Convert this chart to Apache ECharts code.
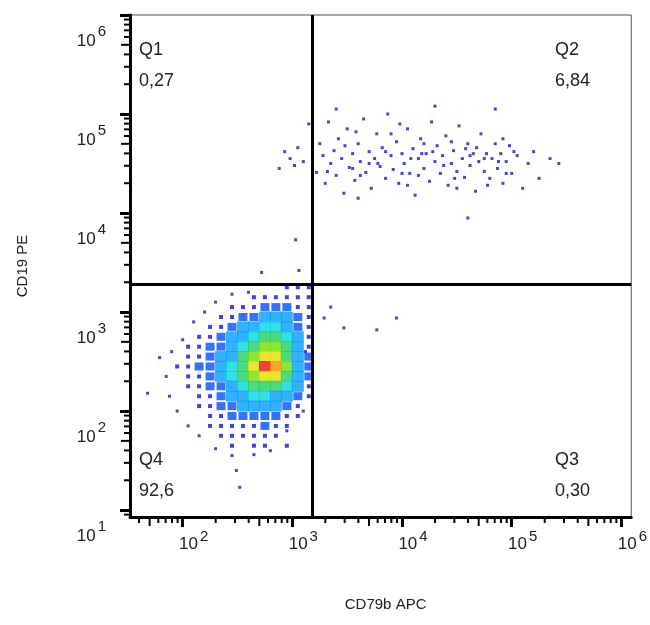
<!DOCTYPE html>
<html>
<head>
<meta charset="utf-8">
<script src="https://cdn.jsdelivr.net/npm/echarts@6/dist/echarts.min.js"></script>
<style>html,body{margin:0;padding:0;background:#fff}#chart{width:650px;height:625px}</style>
</head>
<body>
<div id="chart"></div>
<script>
// axis ranges, log10 units
var xRange = [1.52, 6.09];
var yRange = [0.93, 6.0];
var xDecades = [1e2, 1e3, 1e4, 1e5, 1e6];
var yDecades = [1e1, 1e2, 1e3, 1e4, 1e5, 1e6];
var gateX = 3.18, gateY = 3.28;

// density grid of the main population (log10 units), rows top to bottom
var gridX = [1.95, 2.05, 2.15, 2.25, 2.35, 2.45, 2.55, 2.65, 2.75, 2.85, 2.95, 3.05, 3.15];
var gridY = [3.25, 3.15, 3.05, 2.95, 2.85, 2.75, 2.65, 2.55, 2.45, 2.35, 2.25, 2.15, 2.05, 1.95, 1.85, 1.75, 1.65];
var density = [
  [0,0,0,0,0,0,0,0,0,0,1,1,1],
  [0,0,0,0,0,0,0,1,1,1,1,1,1],
  [0,0,0,0,0,1,1,1,2,2,2,1,1],
  [0,0,0,0,1,1,2,2,3,3,3,2,1],
  [0,0,0,1,1,2,3,3,4,4,3,2,1],
  [0,0,1,1,2,3,3,4,5,5,4,3,1],
  [0,1,1,2,2,3,4,5,6,6,5,3,1],
  [0,1,1,2,3,3,5,6,7,7,5,3,2],
  [1,1,2,2,3,4,5,7,9,8,6,3,2],
  [0,1,1,2,3,4,5,6,7,7,5,3,2],
  [0,1,1,2,2,3,4,5,5,5,4,3,1],
  [0,0,1,1,2,3,3,4,4,3,3,2,1],
  [0,0,1,1,2,2,3,3,3,3,2,1,0],
  [0,0,0,1,1,2,2,2,2,2,1,1,0],
  [0,0,0,1,1,1,1,1,2,1,1,0,0],
  [0,0,0,0,1,1,1,1,1,1,0,0,0],
  [0,0,0,0,0,1,0,1,1,0,1,0,0]
];

// single events (log10 units)
var looseEvents = [
  [1.68,2.18],[1.79,2.54],[1.95,2.0],[2.52,1.23],[2.49,1.40],[2.65,1.56],[1.85,2.35],
  [3.47,2.84],[3.77,2.82],[3.95,2.94],[3.29,2.94],[3.35,3.05],
  [3.03,3.73],[3.06,3.42],[2.72,3.4],[2.88,4.45],
  [2.0,2.72],[2.1,2.9],[2.2,3.0],[2.3,3.1],[1.9,2.6],[1.88,2.15],[2.05,1.85],[2.15,1.75],
  [2.3,1.62],[2.45,1.55],[2.8,1.6],[2.95,1.8],[3.1,2.0],[3.12,2.6],[2.6,3.2],[2.45,3.18]
];
var q2Events = [
  [2.93,4.62],[2.98,4.55],[3.02,4.48],[3.05,4.66],[3.1,4.52],[3.22,4.41],[3.25,4.7],[3.28,4.58],
  [3.3,4.3],[3.33,4.92],[3.35,4.5],[3.38,4.63],[3.4,4.38],[3.42,4.75],[3.45,4.55],[3.47,4.2],
  [3.5,4.85],[3.52,4.46],[3.55,4.6],[3.57,4.33],[3.6,4.7],[3.62,4.52],[3.65,4.95],[3.67,4.41],
  [3.7,4.62],[3.72,4.25],[3.75,4.55],[3.77,4.8],[3.8,4.47],[3.82,4.66],[3.85,4.35],[3.87,5.0],
  [3.9,4.58],[3.92,4.44],[3.95,4.72],[3.97,4.3],[4.0,4.6],[4.02,4.5],[4.05,4.85],[4.07,4.4],
  [4.1,4.65],[4.12,4.18],[4.15,4.55],[4.17,4.75],[4.2,4.45],[4.22,4.6],[4.25,4.32],[4.27,4.92],
  [4.3,4.52],[4.32,4.68],[4.35,4.4],[4.37,4.58],[4.4,4.78],[4.42,4.28],[4.45,4.5],[4.47,4.63],
  [4.5,4.42],[4.52,4.88],[4.55,4.55],[4.57,4.36],[4.6,4.7],[4.62,4.48],[4.65,4.6],[4.67,4.22],
  [4.7,4.52],[4.72,4.8],[4.75,4.42],[4.77,4.6],[4.8,4.35],[4.82,4.55],[4.85,4.7],[4.87,4.45],
  [4.9,4.6],[4.92,4.3],[4.95,4.52],[4.98,4.68],[5.0,4.4],[5.05,4.58],[5.1,4.25],[5.15,4.5],
  [5.2,4.62],[5.25,4.35],[5.35,4.55],[5.43,4.5],[4.6,3.95],[3.4,5.05],[4.3,5.08],[4.85,5.05],
  [3.15,4.9],[3.6,4.15],[4.05,4.28],[4.5,4.25],[3.9,4.8],[4.2,4.7],[3.55,4.45],[3.85,4.62],
  [4.15,4.38],[4.45,4.72],[4.75,4.55],[4.95,4.4],[3.7,4.5],[4.0,4.4],[4.28,4.62],[4.62,4.58],
  [3.48,4.68],[3.78,4.5],[4.08,4.55],[4.38,4.48],[4.68,4.66],[4.88,4.52],[3.58,4.82],[3.98,4.9],
  [4.48,4.35],[4.78,4.28],[5.02,4.62],[3.32,4.42],[3.62,4.38],[4.18,4.6],[4.58,4.65],[4.92,4.75]
];

var quadLabels = [
  { name: 'Q1', value: '0,27', left: 139, top: 35 },
  { name: 'Q2', value: '6,84', right: 60, top: 35 },
  { name: 'Q4', value: '92,6', left: 139, top: 445 },
  { name: 'Q3', value: '0,30', right: 60, top: 445 }
];

var p10 = function (v) { return Math.pow(10, v); };

var cells = [];
density.forEach(function (row, i) {
  row.forEach(function (d, j) {
    if (d > 0) cells.push([p10(gridX[j]), p10(gridY[i]), d]);
  });
});

var minorX = [], minorY = [];
for (var k = 0; k <= 6; k++) {
  for (var m = 2; m <= 9; m++) {
    var lv = k + Math.log10(m);
    if (lv > xRange[0] && lv < xRange[1]) minorX.push([m * Math.pow(10, k), m]);
    if (lv > yRange[0] && lv < yRange[1]) minorY.push([m * Math.pow(10, k), m]);
  }
}

function powLabel(v) {
  var e = Math.log10(v);
  if (Math.abs(e - Math.round(e)) > 1e-6) return '';
  return '{b|10}{s|' + Math.round(e) + '}';
}
var richLab = {
  b: { fontSize: 17, color: '#222', fontFamily: 'Liberation Sans' },
  s: { fontSize: 15, color: '#222', fontFamily: 'Liberation Sans', padding: [0, 0, 16, 2] }
};
var richLabY = {
  b: { fontSize: 17, color: '#222', fontFamily: 'Liberation Sans', padding: [52, 0, 0, 0] },
  s: { fontSize: 15, color: '#222', fontFamily: 'Liberation Sans', padding: [34, 0, 0, 2] }
};

var myChart = echarts.init(document.getElementById('chart'));

var option = {
  animation: false,
  grid: { left: 130, right: 18, top: 15, bottom: 108, show: true, borderColor: '#555', borderWidth: 1 },
  xAxis: {
    type: 'log', min: p10(xRange[0]), max: p10(xRange[1]),
    name: 'CD79b APC', nameLocation: 'middle', nameGap: 80,
    nameTextStyle: { fontSize: 15, color: '#222', fontFamily: 'Liberation Sans', padding: [0, 0, 0, 10] },
    axisLine: { lineStyle: { color: '#000', width: 3 } },
    axisTick: { length: 10, customValues: xDecades, lineStyle: { color: '#000', width: 3 } },
    axisLabel: { formatter: powLabel, customValues: xDecades, rich: richLab, margin: 12, padding: [0, 0, 0, 22] },
    splitLine: { show: false }
  },
  yAxis: {
    type: 'log', min: p10(yRange[0]), max: p10(yRange[1]),
    name: 'CD19 PE', nameLocation: 'middle', nameGap: 100, nameRotate: 90,
    nameTextStyle: { fontSize: 15, color: '#222', fontFamily: 'Liberation Sans' },
    axisLine: { lineStyle: { color: '#000', width: 3 } },
    axisTick: { length: 10, customValues: yDecades, lineStyle: { color: '#000', width: 3 } },
    axisLabel: { formatter: powLabel, customValues: yDecades, rich: richLabY, margin: 24, verticalAlign: 'middle' },
    splitLine: { show: false }
  },
  visualMap: {
    show: false, seriesIndex: 0, dimension: 2, min: 1, max: 9,
    inRange: { color: ['#1010e0', '#0050ff', '#00a0ff', '#00d8e0', '#20d060', '#70e000', '#e0e000', '#ff8c00', '#e81010'] }
  },
  series: [
    {
      type: 'scatter', data: cells, symbol: 'rect', silent: true,
      symbolSize: function (v) { return v[2] === 1 ? [4, 4] : (v[2] === 2 ? [9, 8] : [12, 11]); }
    },
    {
      type: 'scatter', data: looseEvents.concat(q2Events).map(function (p) { return [p10(p[0]), p10(p[1])]; }),
      symbol: 'rect', symbolSize: 3, silent: true, itemStyle: { color: '#1818c8' },
      markLine: {
        silent: true, symbol: 'none', label: { show: false },
        lineStyle: { color: '#000', width: 3, type: 'solid' },
        data: [{ xAxis: p10(gateX) }, { yAxis: p10(gateY) }]
      }
    },
    {
      type: 'custom', data: minorX, clip: false, silent: true,
      renderItem: function (params, api) {
        var p = api.coord([api.value(0), p10(yRange[0])]);
        var len = api.value(1) === 5 ? 8 : 5;
        return { type: 'line', shape: { x1: p[0], y1: p[1] + 1, x2: p[0], y2: p[1] + 1 + len }, style: { stroke: '#000', lineWidth: 2 } };
      }
    },
    {
      type: 'custom', data: minorY, clip: false, silent: true,
      renderItem: function (params, api) {
        var p = api.coord([p10(xRange[0]), api.value(0)]);
        var len = api.value(1) === 5 ? 8 : 5;
        return { type: 'line', shape: { x1: p[0] - 1, y1: p[1], x2: p[0] - 1 - len, y2: p[1] }, style: { stroke: '#000', lineWidth: 2 } };
      }
    }
  ],
  graphic: quadLabels.map(function (q) {
    var g = {
      type: 'text', top: q.top,
      style: { text: q.name + '\n' + q.value, fontSize: 18, lineHeight: 31, fill: '#222', fontFamily: 'Liberation Sans' }
    };
    if (q.left) g.left = q.left; else g.right = q.right;
    return g;
  })
};
myChart.setOption(option);
</script>
</body>
</html>
